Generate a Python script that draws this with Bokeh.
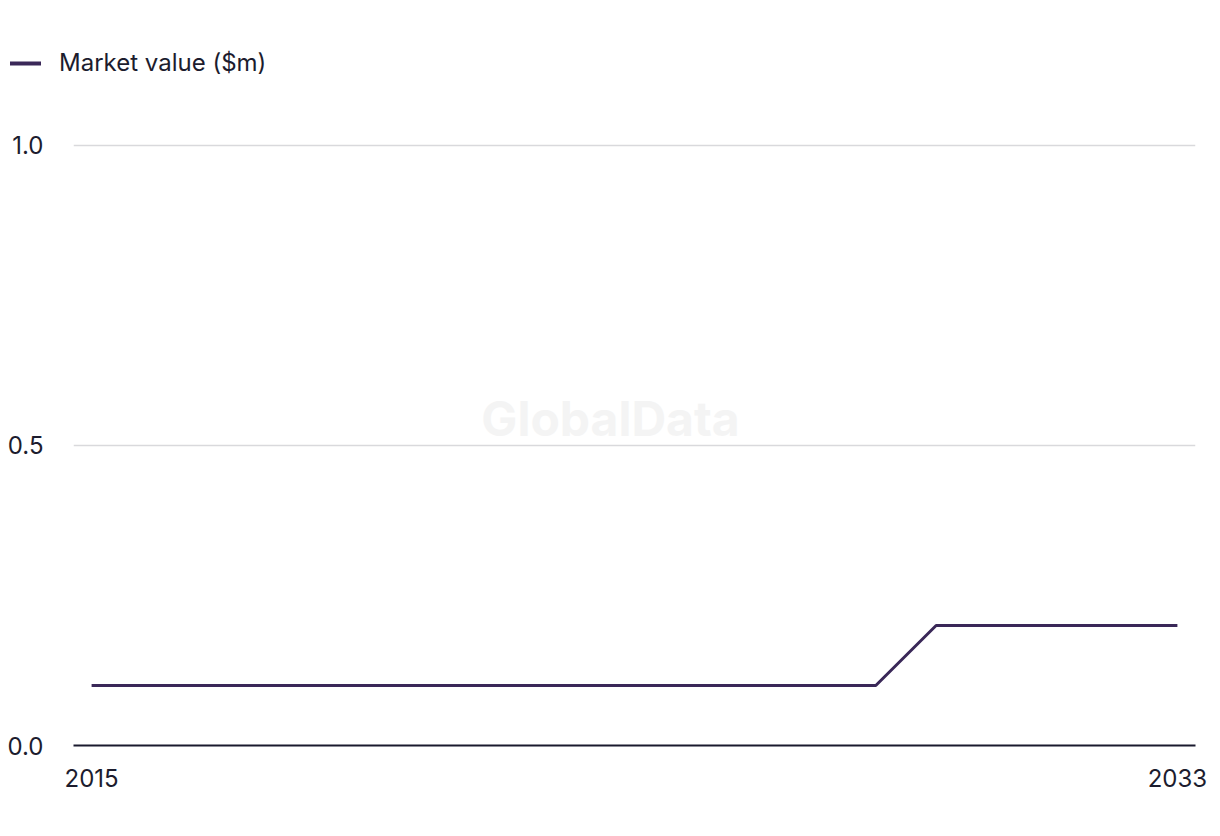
from bokeh.plotting import figure
from bokeh.layouts import column, row
from bokeh.models import Range1d, FixedTicker, Legend, LegendItem, Label, NumeralTickFormatter
from bokeh.embed import file_html
from bokeh.resources import INLINE

years = list(range(2015, 2034))
market_value = [0.1] * 14 + [0.2] * 5
x_ticks = [2015, 2033]
y_ticks = [0.0, 0.5, 1.0]
series_name = "Market value ($m)"

FONT = "Inter"
TEXT = "#1c1c2e"
LINE = "#3a2858"
FS = "24px"
W = 1212

# --- main chart ---
p = figure(width=W, height=720, output_backend="svg", toolbar_location=None,
           x_range=Range1d(2014.7, 2033.3), y_range=Range1d(0, 1.003),
           min_border_left=73, min_border_right=17, min_border_top=43, min_border_bottom=75)
p.outline_line_color = None
p.background_fill_color = "white"

r = p.line(years, market_value, line_color=LINE, line_width=3)

p.xgrid.grid_line_color = None
p.ygrid.grid_line_color = "#d9d9dc"
p.ygrid.grid_line_width = 1.5
p.ygrid.ticker = FixedTicker(ticks=y_ticks)

p.xaxis.ticker = FixedTicker(ticks=x_ticks)
p.xaxis.axis_line_color = "#1a1a2e"
p.xaxis.axis_line_width = 2
p.xaxis.major_tick_line_color = None
p.xaxis.minor_tick_line_color = None
p.xaxis.major_label_standoff = 17
p.xaxis.major_label_text_font = FONT
p.xaxis.major_label_text_font_size = FS
p.xaxis.major_label_text_color = TEXT

p.yaxis.ticker = FixedTicker(ticks=y_ticks)
p.yaxis.formatter = NumeralTickFormatter(format="0.0")
p.yaxis.axis_line_color = None
p.yaxis.major_tick_line_color = None
p.yaxis.minor_tick_line_color = None
p.yaxis.major_label_standoff = 24
p.yaxis.major_label_text_font = FONT
p.yaxis.major_label_text_font_size = FS
p.yaxis.major_label_text_color = TEXT

wm = Label(x=537, y=327, x_units="screen", y_units="screen", text="GlobalData",
           text_font=FONT, text_font_style="bold", text_font_size="48px",
           text_color="#f4f4f4", text_align="center", text_baseline="middle", level="underlay")
p.add_layout(wm)

# --- legend strip on top ---
top = figure(width=W, height=100, output_backend="svg", toolbar_location=None,
             x_range=Range1d(0, 1), y_range=Range1d(0, 1),
             x_axis_location=None, y_axis_location=None,
             min_border_left=0, min_border_right=0, min_border_top=0, min_border_bottom=0)
top.grid.visible = False
top.outline_line_color = None
rl = top.line(years, market_value, line_color=LINE, line_width=4, line_cap="round")
legend = Legend(items=[LegendItem(label=series_name, renderers=[rl])],
                location=(10, 23), orientation="horizontal",
                padding=0, margin=0, glyph_width=31, glyph_height=24, label_height=24,
                label_standoff=18, label_text_font=FONT, label_text_font_size=FS,
                label_text_color=TEXT, border_line_color=None, background_fill_alpha=0)
top.add_layout(legend, "center")

layout = column(row(top, spacing=0), p, spacing=0)
open("out.html", "w").write(file_html(layout, INLINE))
